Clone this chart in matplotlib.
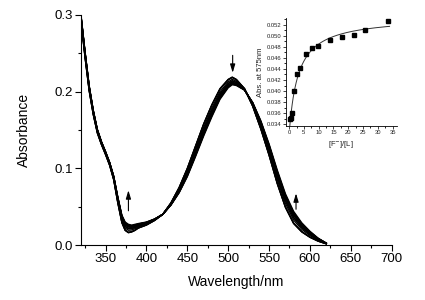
import numpy as np
import matplotlib
matplotlib.use("Agg")
import matplotlib.pyplot as plt
from matplotlib.ticker import MultipleLocator, FormatStrFormatter

plt.rcParams['font.family'] = ['Liberation Sans', 'DejaVu Sans']

# ---- titration data (inset) ----
ratio = [0.3, 0.5, 1.0, 1.8, 2.8, 3.8, 5.8, 7.8, 9.8, 13.8, 17.8, 21.8, 25.8, 33.5]
abs575 = [0.0349, 0.0352, 0.0361, 0.0401, 0.0430, 0.0442, 0.0467, 0.0478,
          0.0482, 0.0492, 0.0498, 0.0502, 0.0511, 0.0527]

# ---- spectra: first and last of the titration ----
wavelength = [320, 325, 330, 335, 340, 345, 350, 355, 360, 365, 370, 374, 378,
              382, 386, 390, 400, 410, 420, 430, 440, 450, 460, 470, 480, 490, 500,
              505, 510, 520, 530, 540, 550, 560, 570, 580, 590, 600, 610, 620]
abs_start = [0.292, 0.244, 0.201, 0.170, 0.146, 0.131, 0.118, 0.104, 0.085,
             0.055, 0.029, 0.019, 0.016, 0.017, 0.019, 0.022, 0.026, 0.032, 0.040,
             0.055, 0.075, 0.100, 0.129, 0.158, 0.183, 0.204, 0.216, 0.219,
             0.216, 0.204, 0.181, 0.151, 0.117, 0.080, 0.049, 0.028, 0.017,
             0.010, 0.005, 0.0015]
abs_end = [0.300, 0.252, 0.208, 0.176, 0.151, 0.135, 0.122, 0.108, 0.090,
           0.063, 0.039, 0.030, 0.027, 0.026, 0.027, 0.028, 0.030, 0.034, 0.040,
           0.052, 0.068, 0.089, 0.115, 0.142, 0.167, 0.190, 0.205, 0.209,
           0.208, 0.202, 0.186, 0.162, 0.132, 0.098, 0.067, 0.044, 0.029,
           0.018, 0.009, 0.0025]

wl = np.array(wavelength)
s0 = np.array(abs_start)
s1 = np.array(abs_end)
a575 = np.array(abs575)
frac = (a575 - a575[0]) / (a575[-1] - a575[0])

fig = plt.figure(figsize=(4.25, 3.0), dpi=100)
ax = fig.add_axes([0.1906, 0.1833, 0.7310, 0.7667])

for f in frac:
    ax.plot(wl, s0 + f * (s1 - s0), color='black', lw=0.95, solid_joinstyle='round')

ax.set_xlim(320, 700)
ax.set_ylim(0, 0.3)
for s in ['top', 'right']:
    ax.spines[s].set_visible(False)
ax.spines['left'].set_linewidth(0.8)
ax.spines['bottom'].set_linewidth(0.8)
ax.xaxis.set_major_locator(MultipleLocator(50))
ax.xaxis.set_minor_locator(MultipleLocator(25))
ax.yaxis.set_major_locator(MultipleLocator(0.1))
ax.yaxis.set_minor_locator(MultipleLocator(0.05))
ax.yaxis.set_major_formatter(FormatStrFormatter('%.1f'))
ax.tick_params(which='major', direction='out', length=4, width=0.8, labelsize=9.5, pad=2)
ax.tick_params(which='minor', direction='out', length=2, width=0.8)
ax.set_xlabel('Wavelength/nm', fontsize=10, labelpad=7)
ax.set_ylabel('Absorbance', fontsize=10, labelpad=16.5)

arrow_kw = dict(arrowstyle='-|>,head_length=0.5,head_width=0.15', color='black', lw=0.8)
ax.annotate('', xy=(378, 0.075), xytext=(378, 0.041), arrowprops=arrow_kw)
ax.annotate('', xy=(505.5, 0.221), xytext=(505.5, 0.251), arrowprops=arrow_kw)
ax.annotate('', xy=(583, 0.071), xytext=(583, 0.043), arrowprops=arrow_kw)

# ---- inset ----
ins = fig.add_axes([0.672, 0.58, 0.262, 0.36])
x = np.array(ratio)
# hyperbolic binding fit to the measured points
best = None
for K in np.linspace(0.5, 15, 600):
    M = np.column_stack([np.ones_like(x), x / (K + x)])
    coef, res, *_ = np.linalg.lstsq(M, a575, rcond=None)
    r = np.sum((M @ coef - a575) ** 2)
    if best is None or r < best[0]:
        best = (r, K, coef)
_, K, coef = best
xf = np.linspace(0, 34, 200)
ins.plot(xf, coef[0] + coef[1] * xf / (K + xf), color='#333333', lw=0.7)
ins.plot(x, a575, 's', color='black', ms=3.2)

ins.set_xlim(-1.2, 36.5)
ins.set_ylim(0.0337, 0.0532)
for s in ['top', 'right']:
    ins.spines[s].set_visible(False)
ins.spines['left'].set_linewidth(0.6)
ins.spines['bottom'].set_linewidth(0.6)
ins.xaxis.set_major_locator(MultipleLocator(5))
ins.xaxis.set_minor_locator(MultipleLocator(2.5))
ins.yaxis.set_major_locator(MultipleLocator(0.002))
ins.yaxis.set_minor_locator(MultipleLocator(0.001))
ins.yaxis.set_major_formatter(FormatStrFormatter('%.3f'))
ins.tick_params(which='major', direction='out', length=2, width=0.6, labelsize=4.2, pad=1.2, colors='#222222')
ins.tick_params(which='minor', direction='out', length=1.2, width=0.6)
ins.set_xlabel('[F$^{-}$]/[L]', fontsize=5.5, labelpad=3, color='#222222')
ins.set_ylabel('Abs. at 575nm', fontsize=5.5, labelpad=2, color='#222222')

fig.savefig('out.png', dpi=100)
